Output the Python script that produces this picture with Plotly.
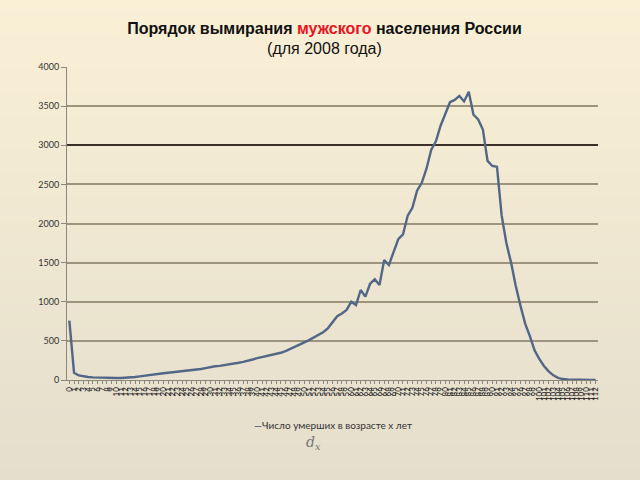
import plotly.graph_objects as go

ages = [str(a) for a in range(0, 113)]
deaths = [758, 93, 58, 45, 38, 34, 31, 29, 27, 26,
          25, 26, 28, 33, 38, 46, 55, 65, 75, 80,
          86, 92, 98, 104, 112, 118, 124, 130, 140, 152,
          165, 175, 180, 188, 200, 212, 220, 232, 243, 262,
          280, 292, 305, 322, 335, 348, 370, 395, 422, 455,
          480, 510, 540, 570, 610, 660, 740, 815, 850, 895,
          1000, 958, 1150, 1065, 1230, 1287, 1214, 1534, 1470, 1650,
          1800, 1860, 2100, 2200, 2420, 2520, 2700, 2940, 3050, 3250,
          3400, 3550, 3580, 3630, 3560, 3685, 3390, 3330, 3200, 2800,
          2735, 2726, 2100, 1750, 1500, 1200, 950, 720, 560, 380,
          270, 180, 110, 60, 28, 12, 6, 3, 2, 1,
          1, 0, 0]
y_ticks = [0, 500, 1000, 1500, 2000, 2500, 3000, 3500, 4000]
dark_grid = [3000]

series_name = "Число умерших в возрасте x лет"

fig = go.Figure()
fig.add_trace(go.Scatter(
    x=ages, y=deaths, mode="lines", name=series_name,
    line=dict(color="rgb(82,102,136)", width=2.4),
    showlegend=False, hoverinfo="x+y",
))

# background gradient stripes (paper coordinates)
shapes = []
n = 60
top_c = (250, 240, 214)
bot_c = (228, 222, 204)
y_top, y_bot = 1.23, -0.33
for k in range(n):
    t = k / (n - 1)
    c = tuple(int(round(top_c[j] + (bot_c[j] - top_c[j]) * t)) for j in range(3))
    y1 = y_top - (y_top - y_bot) * k / n
    y0 = y_top - (y_top - y_bot) * (k + 1) / n
    shapes.append(dict(type="rect", xref="paper", yref="paper",
                       x0=-0.2, x1=1.2, y0=y0 - 0.002, y1=y1 + 0.002,
                       fillcolor="rgb(%d,%d,%d)" % c, line=dict(width=0),
                       layer="below"))

fig.update_layout(
    width=640, height=480,
    margin=dict(l=67, r=42, t=67, b=100),
    paper_bgcolor="rgb(244,236,214)",
    plot_bgcolor="rgba(0,0,0,0)",
    shapes=shapes,
    title=dict(
        text="<b>Порядок вымирания <span style='color:#e8141e'>мужского</span> населения России</b><br>(для 2008 года)",
        x=0.507, xanchor="center", y=0.93, yanchor="top",
        font=dict(family="Liberation Sans, Arial", size=16, color="#111"),
    ),
    xaxis=dict(
        type="category", tickmode="array", tickvals=ages, ticktext=ages,
        tickangle=-90, tickfont=dict(family="Lato, DejaVu Sans", size=8, color="#222"),
        showgrid=False, showline=True, linecolor="rgb(140,135,125)", linewidth=1,
        ticks="outside", ticklen=3, tickcolor="rgb(140,135,125)",
        range=[-0.5, len(ages) - 0.5], zeroline=False,
    ),
    yaxis=dict(
        range=[0, 4000], tickmode="array", tickvals=y_ticks,
        tickfont=dict(family="Lato, DejaVu Sans", size=9, color="#333"),
        showgrid=True, gridcolor="rgb(158,148,126)", gridwidth=1.5,
        showline=True, linecolor="rgb(140,135,125)", linewidth=1,
        ticks="outside", ticklen=5, tickcolor="rgb(140,135,125)",
        zeroline=False,
    ),
    yaxis2=dict(
        overlaying="y", range=[0, 4000], tickmode="array", tickvals=dark_grid,
        showticklabels=False, showgrid=True, gridcolor="rgb(58,50,38)", gridwidth=1.6,
        showline=False, ticks="", zeroline=False,
    ),
    annotations=[
        dict(text="<span style='color:rgb(82,102,136)'><b>—</b></span>" + series_name,
             xref="paper", yref="paper", x=0.5, y=-0.145, xanchor="center", yanchor="middle",
             showarrow=False, font=dict(family="Lato, DejaVu Sans", size=10, color="#333")),
        dict(text="<i>d</i><sub><i>x</i></sub>",
             xref="paper", yref="paper", x=0.465, y=-0.2, xanchor="center", yanchor="middle",
             showarrow=False, font=dict(family="DejaVu Serif, Liberation Serif", size=14, color="#777")),
    ],
)
# invisible helper trace so the overlay axis is drawn
fig.add_trace(go.Scatter(x=[ages[0]], y=[None], yaxis="y2", showlegend=False,
                         hoverinfo="skip", mode="lines"))

fig.write_html("out.html")
